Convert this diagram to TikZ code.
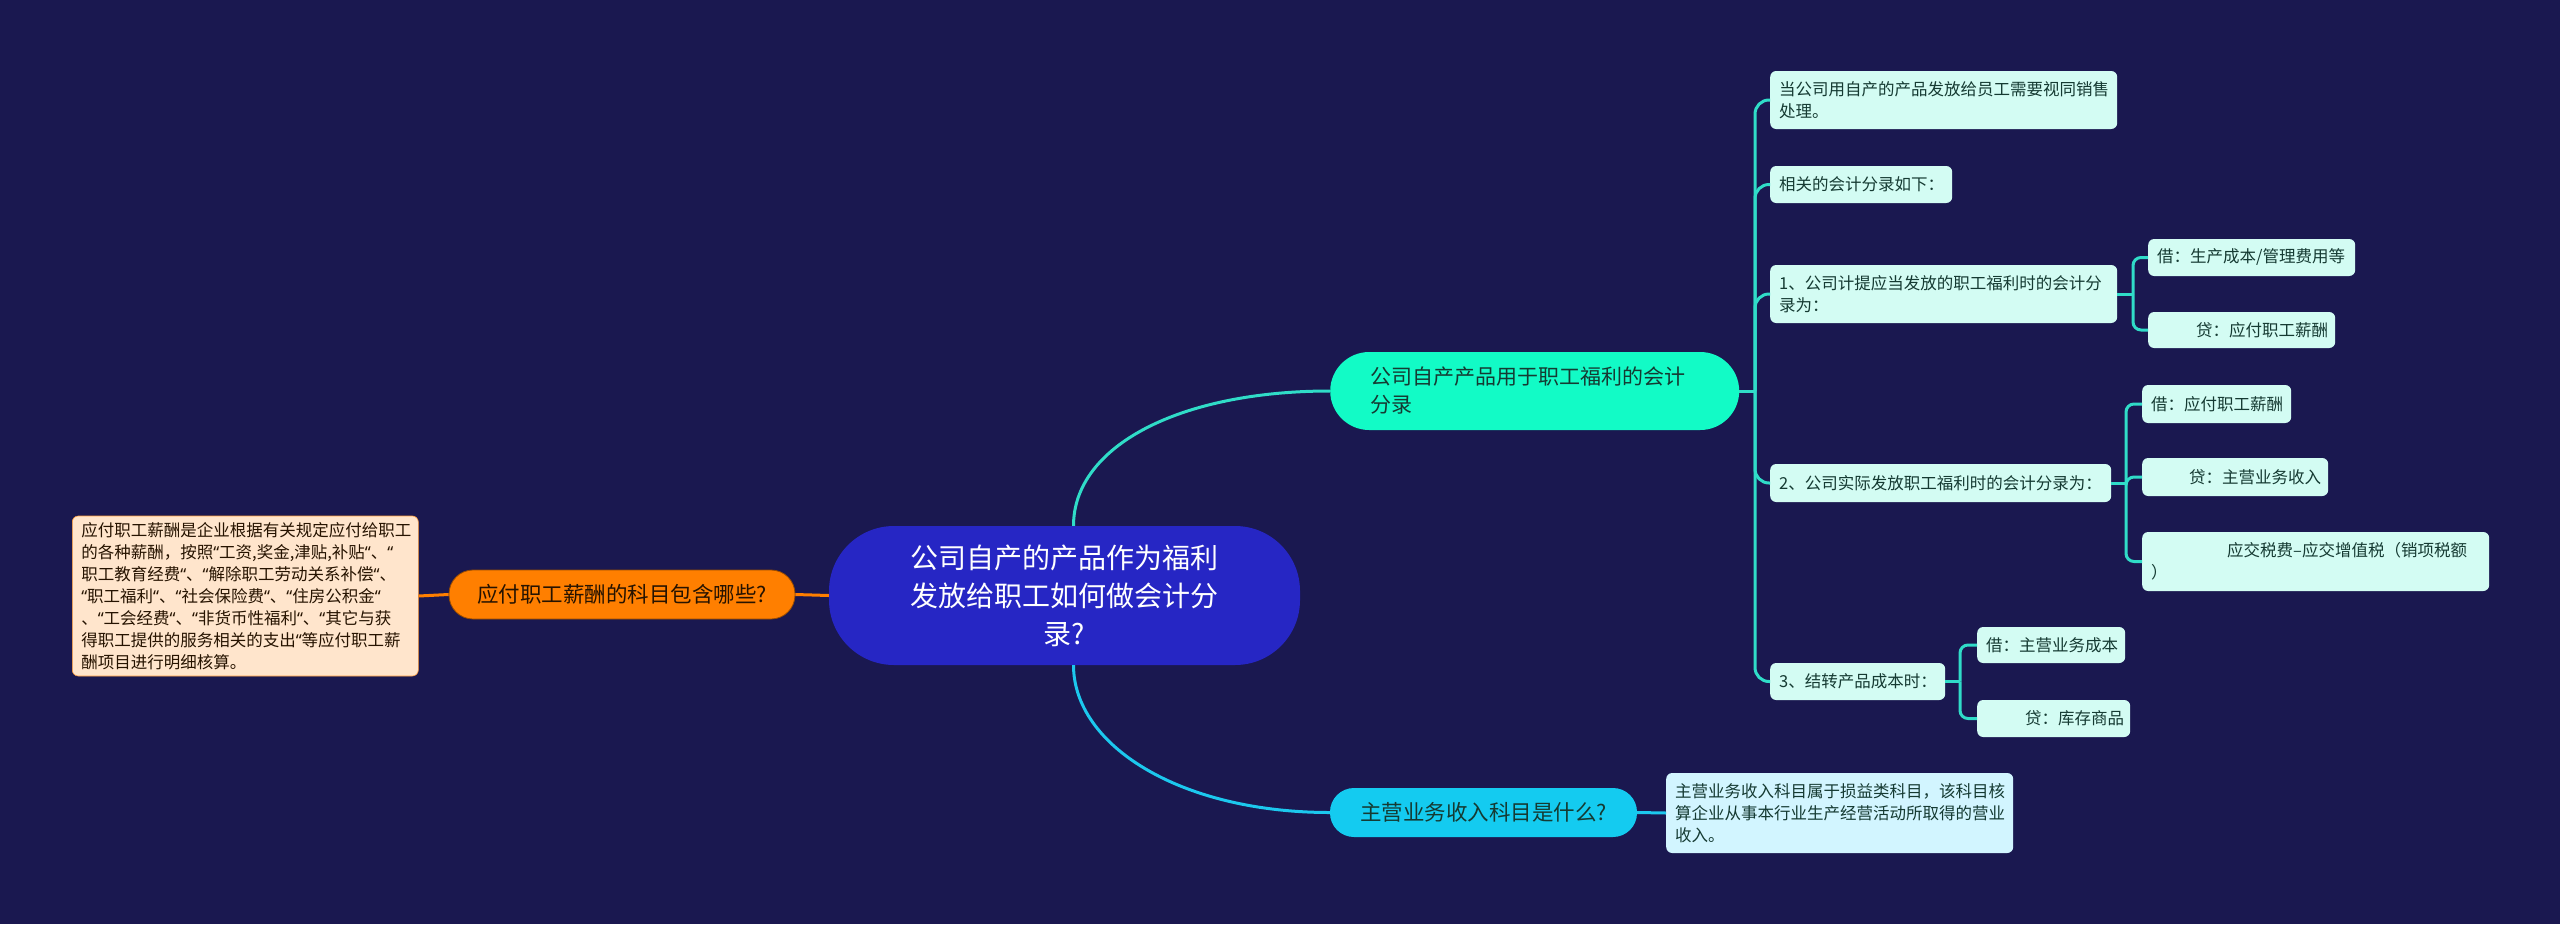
\documentclass[tikz,border=0pt]{standalone}
\usepackage{fontspec}
\setmainfont{Noto Sans CJK SC}
\newfontfamily\qfont{Noto Sans}
\newcommand\qq{{\qfont “}}
\definecolor{bg}{HTML}{1A1850}
\definecolor{ctrfill}{HTML}{2626C4}
\definecolor{grnfill}{HTML}{12FBC6}
\definecolor{cyanfill}{HTML}{14CBF0}
\definecolor{orgfill}{HTML}{FF7F00}
\definecolor{peach}{HTML}{FFE5CC}
\definecolor{leaffill}{HTML}{D3FCF3}
\definecolor{leafblue}{HTML}{D2F5FF}
\definecolor{gline}{HTML}{30DCC8}
\definecolor{cline}{HTML}{1CC8EE}
\definecolor{leaftext}{HTML}{153A32}
\tikzset{
  leaf/.style={fill=leaffill, text=leaftext, rounded corners=6pt, align=left,
    inner xsep=9pt, inner ysep=4pt, anchor=west,
    font=\fontsize{16.5}{22}\selectfont},
  bigpill/.style={rounded corners=#1, inner sep=0pt, align=center},
  glink/.style={draw=gline, line width=3pt},
  clink/.style={draw=cline, line width=3pt},
  olink/.style={draw=orgfill, line width=3pt},
}
\begin{document}
\begin{tikzpicture}[x=1pt,y=-1pt]
\fill[bg] (0,0) rectangle (2560,924);
\useasboundingbox (0,0) rectangle (2560,924);

% main nodes
\node[bigpill=65pt, fill=ctrfill, text=white, minimum width=471pt, minimum height=139pt,
  font=\fontsize{28}{38}\selectfont] (ctr) at (1064.5,595.5)
  {公司自产的产品作为福利\\发放给职工如何做会计分\\录?};
\node[bigpill=24pt, fill=orgfill, draw=orgfill!60!black, line width=0.8pt, text=black!85!orange,
  minimum width=346pt, minimum height=49pt, font=\fontsize{21.5}{28}\selectfont] (org) at (622,594.5)
  {应付职工薪酬的科目包含哪些?};
\node[fill=peach, draw=orgfill!70!peach, line width=0.6pt, rounded corners=6pt, text=black!85!orange,
  align=left, text width=328pt, inner xsep=9pt, minimum height=160pt, anchor=west,
  font=\fontsize{16.5}{22}\selectfont] (pch) at (72,596)
  {应付职工薪酬是企业根据有关规定应付给职工\\的各种薪酬，按照\qq 工资,奖金,津贴,补贴\qq 、\qq\\职工教育经费\qq 、\qq 解除职工劳动关系补偿\qq 、\\\qq 职工福利\qq 、\qq 社会保险费\qq 、\qq 住房公积金\qq\\、\qq 工会经费\qq 、\qq 非货币性福利\qq 、\qq 其它与获\\得职工提供的服务相关的支出\qq 等应付职工薪\\酬项目进行明细核算。};
\node[rounded corners=39pt, fill=grnfill, text=leaftext, align=left, text width=329pt,
  inner xsep=40pt, inner ysep=0pt, minimum height=78pt, anchor=west,
  font=\fontsize{21}{28}\selectfont] (grn) at (1330,391)
  {公司自产产品用于职工福利的会计\\分录};
\node[bigpill=24pt, fill=cyanfill, text=leaftext, minimum width=307pt, minimum height=49pt,
  font=\fontsize{21.5}{28}\selectfont] (cyn) at (1483.5,812.5)
  {主营业务收入科目是什么?};
\node[leaf, fill=leafblue, text width=329pt, minimum height=80pt] (g1) at (1666,813)
  {主营业务收入科目属于损益类科目，该科目核\\算企业从事本行业生产经营活动所取得的营业\\收入。};

% second level
\node[leaf, text width=329pt, minimum height=58pt] (c1) at (1770,100)
  {当公司用自产的产品发放给员工需要视同销售\\处理。};
\node[leaf, text width=164pt, minimum height=37pt] (c2) at (1770,184.5)
  {相关的会计分录如下：};
\node[leaf, text width=329pt, minimum height=58pt] (c3) at (1770,294)
  {1、公司计提应当发放的职工福利时的会计分\\录为：};
\node[leaf, text width=323pt, minimum height=38pt] (c4) at (1770,483)
  {2、公司实际发放职工福利时的会计分录为：};
\node[leaf, text width=157pt, minimum height=37pt] (c5) at (1770,681.5)
  {3、结转产品成本时：};

% third level
\node[leaf, text width=189pt, minimum height=37pt] (d1) at (2148,257.5)
  {借：生产成本/管理费用等};
\node[leaf, text width=169pt, minimum height=36pt] (d2) at (2148,330)
  {\hspace*{39pt}贷：应付职工薪酬};
\node[leaf, text width=131pt, minimum height=38pt] (e1) at (2142,404)
  {借：应付职工薪酬};
\node[leaf, text width=168pt, minimum height=38pt] (e2) at (2142,477)
  {\hspace*{38pt}贷：主营业务收入};
\node[leaf, text width=329pt, minimum height=59pt] (e3) at (2142,561.5)
  {\hspace*{76pt}应交税费–应交增值税（销项税额\\）};
\node[leaf, text width=130pt, minimum height=36pt] (f1) at (1977,645)
  {借：主营业务成本};
\node[leaf, text width=135pt, minimum height=37pt] (f2) at (1977,718.5)
  {\hspace*{39pt}贷：库存商品};

% connectors from centre
\draw[glink] ([xshift=9pt]ctr.north) .. controls +(0,-80) and +(-150,0) .. (grn.west);
\draw[clink] ([xshift=9pt]ctr.south) .. controls +(0,80) and +(-150,0) .. (cyn.west);
\draw[olink] (ctr.west) -- (org.east);
\draw[olink] (org.west) -- (pch.east);
\draw[clink] (cyn.east) -- (g1.west);

% green branch
\coordinate (gb) at (1755,391);
\draw[glink] (grn.east) -- (gb);
\foreach \c in {c1,c2,c3,c4,c5}{
  \draw[glink, rounded corners=14pt] (gb) |- (\c.west);
}
% level-3 branches
\coordinate (b3) at (2133,294);
\draw[glink] (c3.east) -- (b3);
\foreach \c in {d1,d2}{\draw[glink, rounded corners=8pt] (b3) |- (\c.west);}
\coordinate (b4) at (2126,483);
\draw[glink] (c4.east) -- (b4);
\foreach \c in {e1,e2,e3}{\draw[glink, rounded corners=8pt] (b4) |- (\c.west);}
\coordinate (b5) at (1960,681.5);
\draw[glink] (c5.east) -- (b5);
\foreach \c in {f1,f2}{\draw[glink, rounded corners=8pt] (b5) |- (\c.west);}
\end{tikzpicture}
\end{document}
